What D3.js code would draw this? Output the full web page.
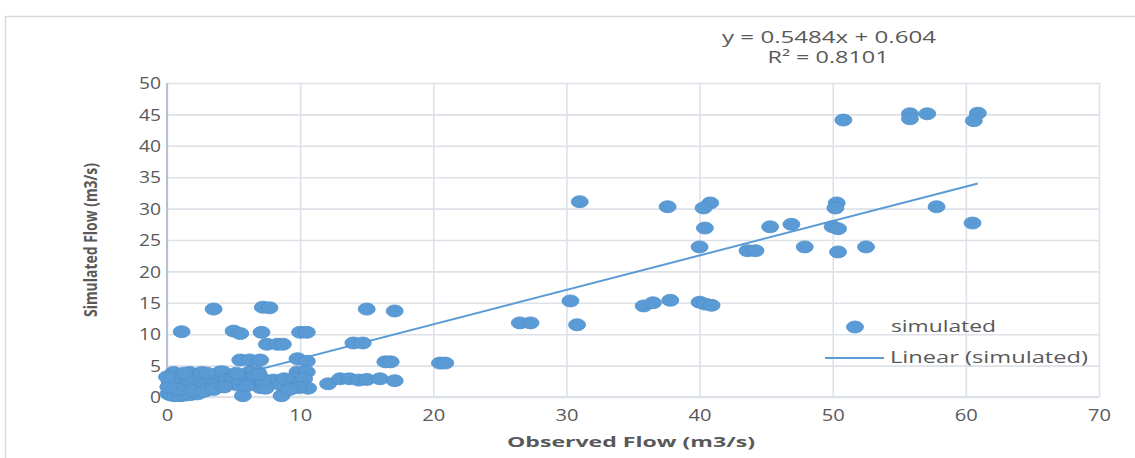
<!DOCTYPE html>
<html>
<head>
<meta charset="utf-8">
<script src="https://cdn.jsdelivr.net/npm/d3@7"></script>
<style>
  body { margin: 0; background: #fff; }
  text { font-family: "Open Sans", sans-serif; fill: #595959; }
</style>
</head>
<body>
<script>
// observed (x) and simulated (y) flow
const obsFlow = [
  50.8, 55.8, 55.8, 57.1, 60.9, 60.6, 57.8, 60.5,
  50.3, 50.2, 40.8, 40.3, 31.0, 37.6,
  40.4, 45.3, 46.9, 50.0, 50.4,
  40.0, 43.6, 44.2, 47.9, 50.4, 52.5,
  30.3, 30.8, 35.8, 36.5, 37.8, 40.0, 40.4, 40.9,
  26.5, 27.3,
  15.0, 17.1, 14.0, 14.7, 16.4, 16.8, 20.5, 20.9,
  12.1, 13.0, 13.7, 14.4, 15.0, 16.0, 17.1,
  3.5, 7.2, 7.7, 1.1, 5.0, 5.5, 7.1, 10.0, 10.5,
  7.5, 8.3, 8.7,
  5.5, 6.2, 7.0, 9.8, 10.5,
  6.2, 6.8, 9.8, 10.5, 4.0,
  5.7, 8.6,
  8.0, 8.5, 8.8, 9.3, 9.6, 10.0, 10.3, 10.6, 9.9, 9.2,
  0.1, 0.3, 0.6, 1.0, 1.4, 1.8, 2.3, 0.2, 0.2, 0.3, 0.5, 0.7, 1.0, 1.2, 1.5, 1.7,
  2.0, 2.2, 2.5, 2.6, 2.9, 3.1, 3.3, 3.6, 3.8, 4.0, 4.2, 4.5, 4.8, 5.0, 5.3, 5.6,
  5.9, 6.2, 6.5, 7.0, 7.4, 0.9, 1.9, 2.8, 3.5, 4.3, 6.0, 1.3, 3.0,
  6.6, 7.2, 5.2, 6.9, 0.1, 0.0
];
const simFlow = [
  44.1, 45.1, 44.3, 45.1, 45.2, 44.0, 30.3, 27.7,
  30.9, 30.1, 30.9, 30.1, 31.1, 30.3,
  26.9, 27.1, 27.5, 27.1, 26.8,
  23.9, 23.3, 23.3, 23.9, 23.1, 23.9,
  15.3, 11.5, 14.5, 15.0, 15.4, 15.1, 14.8, 14.6,
  11.8, 11.8,
  14.0, 13.7, 8.6, 8.6, 5.6, 5.6, 5.4, 5.4,
  2.1, 2.9, 2.9, 2.7, 2.8, 2.9, 2.6,
  14.0, 14.3, 14.2, 10.4, 10.5, 10.1, 10.3, 10.3, 10.3,
  8.4, 8.4, 8.4,
  5.9, 5.9, 5.9, 6.1, 5.7,
  4.0, 4.0, 4.0, 4.0, 4.0,
  0.2, 0.2,
  2.7, 2.0, 2.9, 2.1, 3.0, 2.4, 2.9, 1.4, 1.5, 1.2,
  0.5, 0.3, 0.2, 0.2, 0.3, 0.4, 0.5, 2.4, 2.9, 3.5, 3.9, 2.1, 2.7, 3.3, 1.9, 3.9,
  2.6, 1.6, 3.4, 3.9, 2.2, 1.5, 3.0, 2.5, 1.8, 3.6, 4.0, 2.8, 2.2, 3.1, 1.9, 2.7,
  3.3, 2.3, 4.0, 1.5, 1.4, 1.2, 1.0, 0.9, 1.2, 1.6, 1.8, 3.8, 3.8,
  3.4, 2.8, 3.8, 3.6, 1.6, 3.2
];
const xTicks = [0, 10, 20, 30, 40, 50, 60, 70];
const yTicks = [0, 5, 10, 15, 20, 25, 30, 35, 40, 45, 50];
const slope = 0.5484, intercept = 0.604;
const eqLabel = "y = 0.5484x + 0.604";
const r2Label = "R² = 0.8101";
const xTitle = "Observed Flow (m3/s)";
const yTitle = "Simulated Flow (m3/s)";
const legendNames = ["simulated", "Linear (simulated)"];

const W = 1135, H = 458;
const blue = "#5b9bd5";
const gridCol = "#dde2e9";

const svg = d3.select("body").append("svg")
  .attr("width", W).attr("height", H);

// chart frame
svg.append("rect")
  .attr("x", 5.5).attr("y", 16.5).attr("width", W + 10).attr("height", H + 10)
  .attr("fill", "#fff").attr("stroke", "#d9d9d9").attr("stroke-width", 1.5);

const x = d3.scaleLinear().domain([0, 70]).range([167, 1099]);
const y = d3.scaleLinear().domain([0, 50]).range([397, 83]);

// stretched text helper (the picture is wider than normal glyphs)
let fit = (sel, len) => sel.attr("textLength", len).attr("lengthAdjust", "spacingAndGlyphs");

let gy = svg.append("g")
  .attr("transform", `translate(${x(0)},0)`)
  .call(d3.axisLeft(y).tickValues(yTicks).tickSize(-(x(70) - x(0))).tickPadding(6));
gy.select(".domain").remove();
gy.selectAll("line").attr("stroke", gridCol).attr("stroke-width", 1.6);
gy.selectAll("text")
  .style("font-size", "16px").style("font-family", "Open Sans, sans-serif").attr("fill", "#595959")
  .attr("dy", "0.36em")
  .each(function(d) { fit(d3.select(this), String(d).length * 11); });

let gx = svg.append("g")
  .attr("transform", `translate(0,${y(0)})`)
  .call(d3.axisBottom(x).tickValues(xTicks).tickSize(-(y(0) - y(50))).tickPadding(13));
gx.select(".domain").remove();
gx.selectAll("line").attr("stroke", gridCol).attr("stroke-width", 1.6);
gx.selectAll("text")
  .style("font-size", "16px").style("font-family", "Open Sans, sans-serif").attr("fill", "#595959")
  .each(function(d) { fit(d3.select(this), String(d).length * 11.5); });

// left axis line
svg.append("line")
  .attr("x1", x(0)).attr("x2", x(0)).attr("y1", y(50)).attr("y2", y(0))
  .attr("stroke", "#b8c2cf").attr("stroke-width", 2);
svg.append("line")
  .attr("x1", x(0)).attr("x2", x(70)).attr("y1", y(0)).attr("y2", y(0))
  .attr("stroke", gridCol).attr("stroke-width", 1.8);

// linear trend line (under the markers)
const xMin = d3.min(obsFlow), xMax = d3.max(obsFlow);
svg.append("line")
  .attr("x1", x(xMin)).attr("y1", y(slope * xMin + intercept))
  .attr("x2", x(xMax)).attr("y2", y(slope * xMax + intercept))
  .attr("stroke", blue).attr("stroke-width", 2);

// points
const pts = obsFlow.map((o, i) => ({ o, s: simFlow[i] }));
svg.append("g").selectAll("ellipse").data(pts).join("ellipse")
  .attr("cx", d => x(d.o)).attr("cy", d => y(d.s))
  .attr("rx", 8.5).attr("ry", 6)
  .attr("fill", blue).attr("stroke", "#4e8fcb").attr("stroke-width", 0.8);

// equation
fit(svg.append("text").attr("x", 829).attr("y", 43).attr("text-anchor", "middle")
  .style("font-size", "16px").text(eqLabel), 214);
fit(svg.append("text").attr("x", 828).attr("y", 63).attr("text-anchor", "middle")
  .style("font-size", "16px").text(r2Label), 121);

// axis titles
fit(svg.append("text").attr("x", 631).attr("y", 447).attr("text-anchor", "middle")
  .style("font-size", "15px").style("font-weight", "bold").text(xTitle), 248);
fit(svg.append("text").attr("transform", "translate(97,240) rotate(-90)")
  .attr("text-anchor", "middle")
  .style("font-size", "18px").style("font-weight", "bold").text(yTitle), 154);

// legend
svg.append("ellipse").attr("cx", 855).attr("cy", 327).attr("rx", 8.5).attr("ry", 6)
  .attr("fill", blue).attr("stroke", "#4e8fcb").attr("stroke-width", 0.8);
fit(svg.append("text").attr("x", 891).attr("y", 332)
  .style("font-size", "16px").text(legendNames[0]), 105);
svg.append("line").attr("x1", 825).attr("x2", 884).attr("y1", 358).attr("y2", 358)
  .attr("stroke", blue).attr("stroke-width", 2);
fit(svg.append("text").attr("x", 890).attr("y", 363)
  .style("font-size", "16px").text(legendNames[1]), 198);
</script>
</body>
</html>
